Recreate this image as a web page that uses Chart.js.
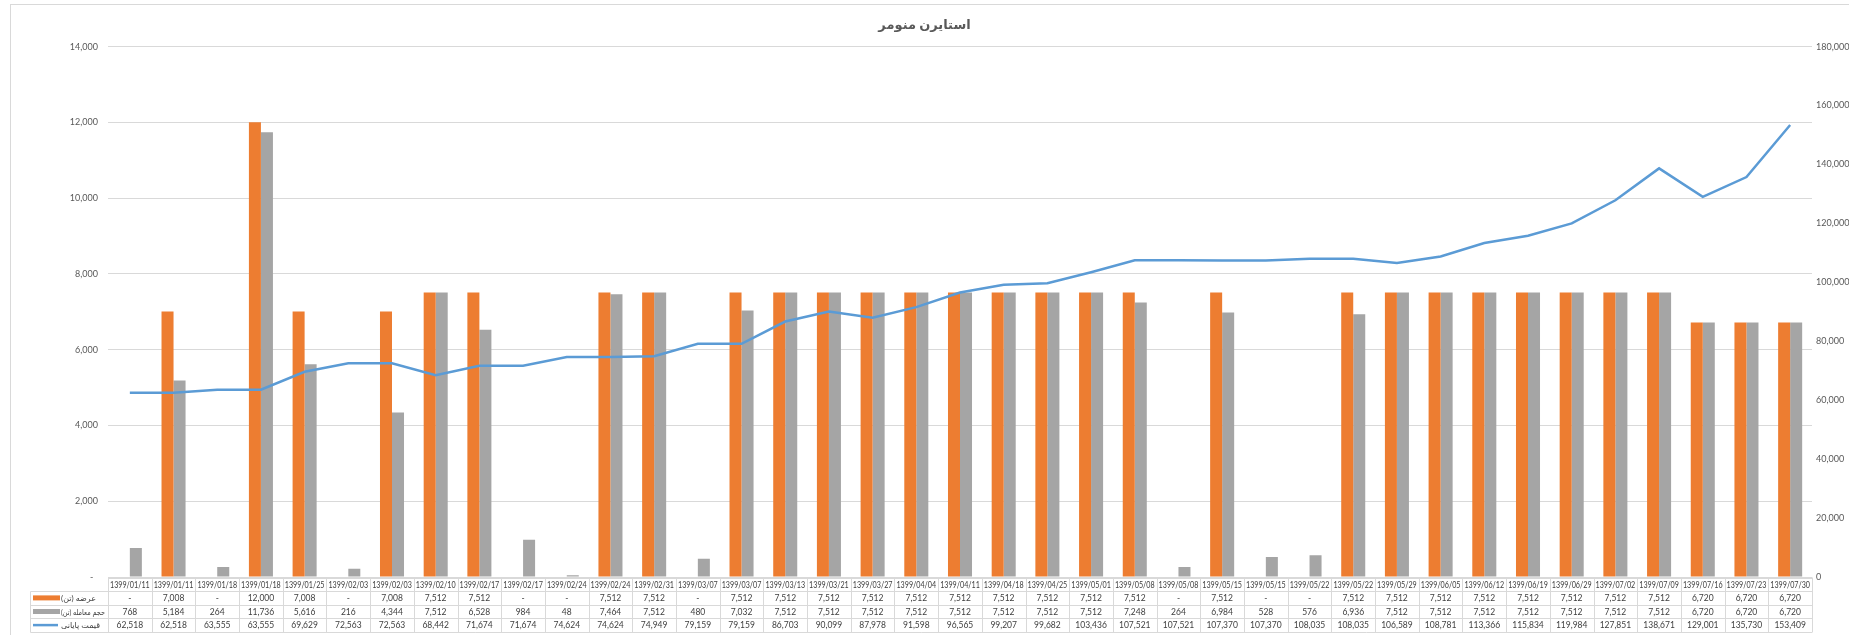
<!DOCTYPE html>
<html>
<head>
<meta charset="utf-8">
<script src="https://cdn.jsdelivr.net/npm/chart.js@4"></script>
<style>
  html, body { margin: 0; padding: 0; background: #fff; }
  #wrap { width: 1849px; height: 635px; position: relative; }
</style>
</head>
<body>
<div id="wrap"><canvas id="myChart"></canvas></div>
<script>
const labels = [
	'1399/01/11', '1399/01/11', '1399/01/18', '1399/01/18', '1399/01/25', '1399/02/03', '1399/02/03',
	'1399/02/10', '1399/02/17', '1399/02/17', '1399/02/24', '1399/02/24', '1399/02/31', '1399/03/07',
	'1399/03/07', '1399/03/13', '1399/03/21', '1399/03/27', '1399/04/04', '1399/04/11', '1399/04/18',
	'1399/04/25', '1399/05/01', '1399/05/08', '1399/05/08', '1399/05/15', '1399/05/15', '1399/05/22',
	'1399/05/22', '1399/05/29', '1399/06/05', '1399/06/12', '1399/06/19', '1399/06/29', '1399/07/02',
	'1399/07/09', '1399/07/16', '1399/07/23', '1399/07/30'
];

// عرضه (تن)
const supply = [
	0, 7008, 0, 12000, 7008, 0, 7008, 7512, 7512, 0, 0, 7512, 7512, 0, 7512, 7512, 7512, 7512, 7512, 7512,
	7512, 7512, 7512, 7512, 0, 7512, 0, 0, 7512, 7512, 7512, 7512, 7512, 7512, 7512, 7512, 6720, 6720, 6720
];

// حجم معامله (تن)
const volume = [
	768, 5184, 264, 11736, 5616, 216, 4344, 7512, 6528, 984, 48, 7464, 7512, 480, 7032, 7512, 7512, 7512, 7512, 7512,
	7512, 7512, 7512, 7248, 264, 6984, 528, 576, 6936, 7512, 7512, 7512, 7512, 7512, 7512, 7512, 6720, 6720, 6720
];

// قیمت پایانی
const price = [
	62518, 62518, 63555, 63555, 69629, 72563, 72563, 68442, 71674, 71674,
	74624, 74624, 74949, 79159, 79159, 86703, 90099, 87978, 91598, 96565,
	99207, 99682, 103436, 107521, 107521, 107370, 107370, 108035, 108035, 106589,
	108781, 113366, 115834, 119984, 127851, 138671, 129001, 135730, 153409
];

const seriesNames = ['عرضه (تن)', 'حجم معامله (تن)', 'قیمت پایانی'];
const colors = ['#ED7D31', '#A5A5A5', '#5B9BD5'];
const FONT = "Lato, 'DejaVu Sans', sans-serif";

const fmt = v => v === 0 ? '-' : v.toLocaleString('en-US');

// light frame around the chart
const framePlugin = {
	id: 'frame',
	beforeDraw(chart) {
		const ctx = chart.ctx;
		ctx.save();
		ctx.strokeStyle = '#D9D9D9';
		ctx.lineWidth = 1;
		ctx.strokeRect(10.5, 4.5, chart.width, chart.height);
		ctx.restore();
	}
};

// excel style data table under the plot
const tablePlugin = {
	id: 'dataTable',
	afterDraw(chart) {
		const { ctx, chartArea: a } = chart;
		const x = chart.scales.x;
		const n = labels.length;
		const w = a.width / n;
		const rowH = 13.6;
		const top = Math.round(a.bottom) + 0.5;
		const legLeft = 30.5;
		ctx.save();
		ctx.strokeStyle = '#D9D9D9';
		ctx.lineWidth = 1;
		ctx.beginPath();
		for (let r = 0; r <= 4; r++) {
			const y = Math.round(top + r * rowH) + 0.5;
			ctx.moveTo(r === 0 ? a.left : legLeft, y);
			ctx.lineTo(a.right, y);
		}
		for (let i = 0; i <= n; i++) {
			const xx = Math.round(a.left + i * w) + 0.5;
			ctx.moveTo(xx, top);
			ctx.lineTo(xx, Math.round(top + 4 * rowH) + 0.5);
		}
		ctx.moveTo(legLeft, Math.round(top + rowH) + 0.5);
		ctx.lineTo(legLeft, Math.round(top + 4 * rowH) + 0.5);
		ctx.stroke();

		ctx.fillStyle = '#404040';
		ctx.textAlign = 'center';
		ctx.textBaseline = 'middle';
		const rows = [supply, volume, price];
		labels.forEach((lab, i) => {
			const cx = x.getPixelForValue(i);
			ctx.font = '8.5px ' + FONT;
			ctx.fillText(lab, cx, top + rowH / 2 + 0.5, w - 4);
			rows.forEach((arr, r) => {
				ctx.fillText(fmt(arr[i]), cx, top + rowH * (r + 1.5) + 0.5);
			});
		});

		// legend keys
		rows.forEach((arr, r) => {
			const cy = top + rowH * (r + 1.5);
			if (r < 2) {
				ctx.fillStyle = colors[r];
				ctx.fillRect(33, cy - 2.5, 27, 5);
			} else {
				ctx.strokeStyle = colors[r];
				ctx.lineWidth = 2.5;
				ctx.beginPath();
				ctx.moveTo(33, cy);
				ctx.lineTo(58, cy);
				ctx.stroke();
			}
			ctx.fillStyle = '#404040';
			ctx.textAlign = 'left';
			ctx.font = '8px ' + FONT;
			ctx.fillText(seriesNames[r], 61, cy + 0.5, a.left - 64);
		});
		ctx.restore();
	}
};

const ctx = document.getElementById('myChart').getContext('2d');

const data = {
	labels,
	datasets: [{
		type: 'line',
		label: seriesNames[2],
		data: price,
		yAxisID: 'y1',
		borderColor: colors[2],
		borderWidth: 2.5,
		pointRadius: 0,
		tension: 0,
		order: 0
	}, {
		type: 'bar',
		label: seriesNames[0],
		data: supply,
		yAxisID: 'y',
		backgroundColor: colors[0],
		barPercentage: 1,
		categoryPercentage: 0.55,
		order: 1
	}, {
		type: 'bar',
		label: seriesNames[1],
		data: volume,
		yAxisID: 'y',
		backgroundColor: colors[1],
		barPercentage: 1,
		categoryPercentage: 0.55,
		order: 2
	}]
};

const config = {
	data: data,
	plugins: [framePlugin, tablePlugin],
	options: {
		responsive: true,
		maintainAspectRatio: false,
		animation: false,
		layout: { padding: 0 },
		plugins: {
			legend: { display: false },
			tooltip: { enabled: false },
			title: {
				display: true,
				text: 'استایرن منومر',
				color: '#595959',
				font: { size: 13, weight: 'bold', family: FONT },
				padding: { top: 17, bottom: 14 }
			}
		},
		scales: {
			x: {
				grid: { display: false },
				border: { display: false },
				ticks: { display: false },
				afterFit: s => { s.height = 58; }
			},
			y: {
				position: 'left',
				min: 0,
				max: 14000,
				grid: { color: '#D9D9D9', drawTicks: false },
				border: { display: false },
				ticks: {
					stepSize: 2000,
					padding: 10,
					color: '#595959',
					font: { size: 9, family: FONT },
					callback: v => v === 0 ? '-  ' : v.toLocaleString('en-US')
				},
				afterFit: s => { s.width = 108; }
			},
			y1: {
				position: 'right',
				min: 0,
				max: 180000,
				grid: { display: false, drawTicks: false },
				border: { display: false },
				ticks: {
					stepSize: 20000,
					padding: 4,
					color: '#595959',
					font: { size: 9, family: FONT },
					callback: v => v.toLocaleString('en-US')
				},
				afterFit: s => { s.width = 37; }
			}
		}
	}
};

const myChart = new Chart(ctx, config);
</script>
</body>
</html>
